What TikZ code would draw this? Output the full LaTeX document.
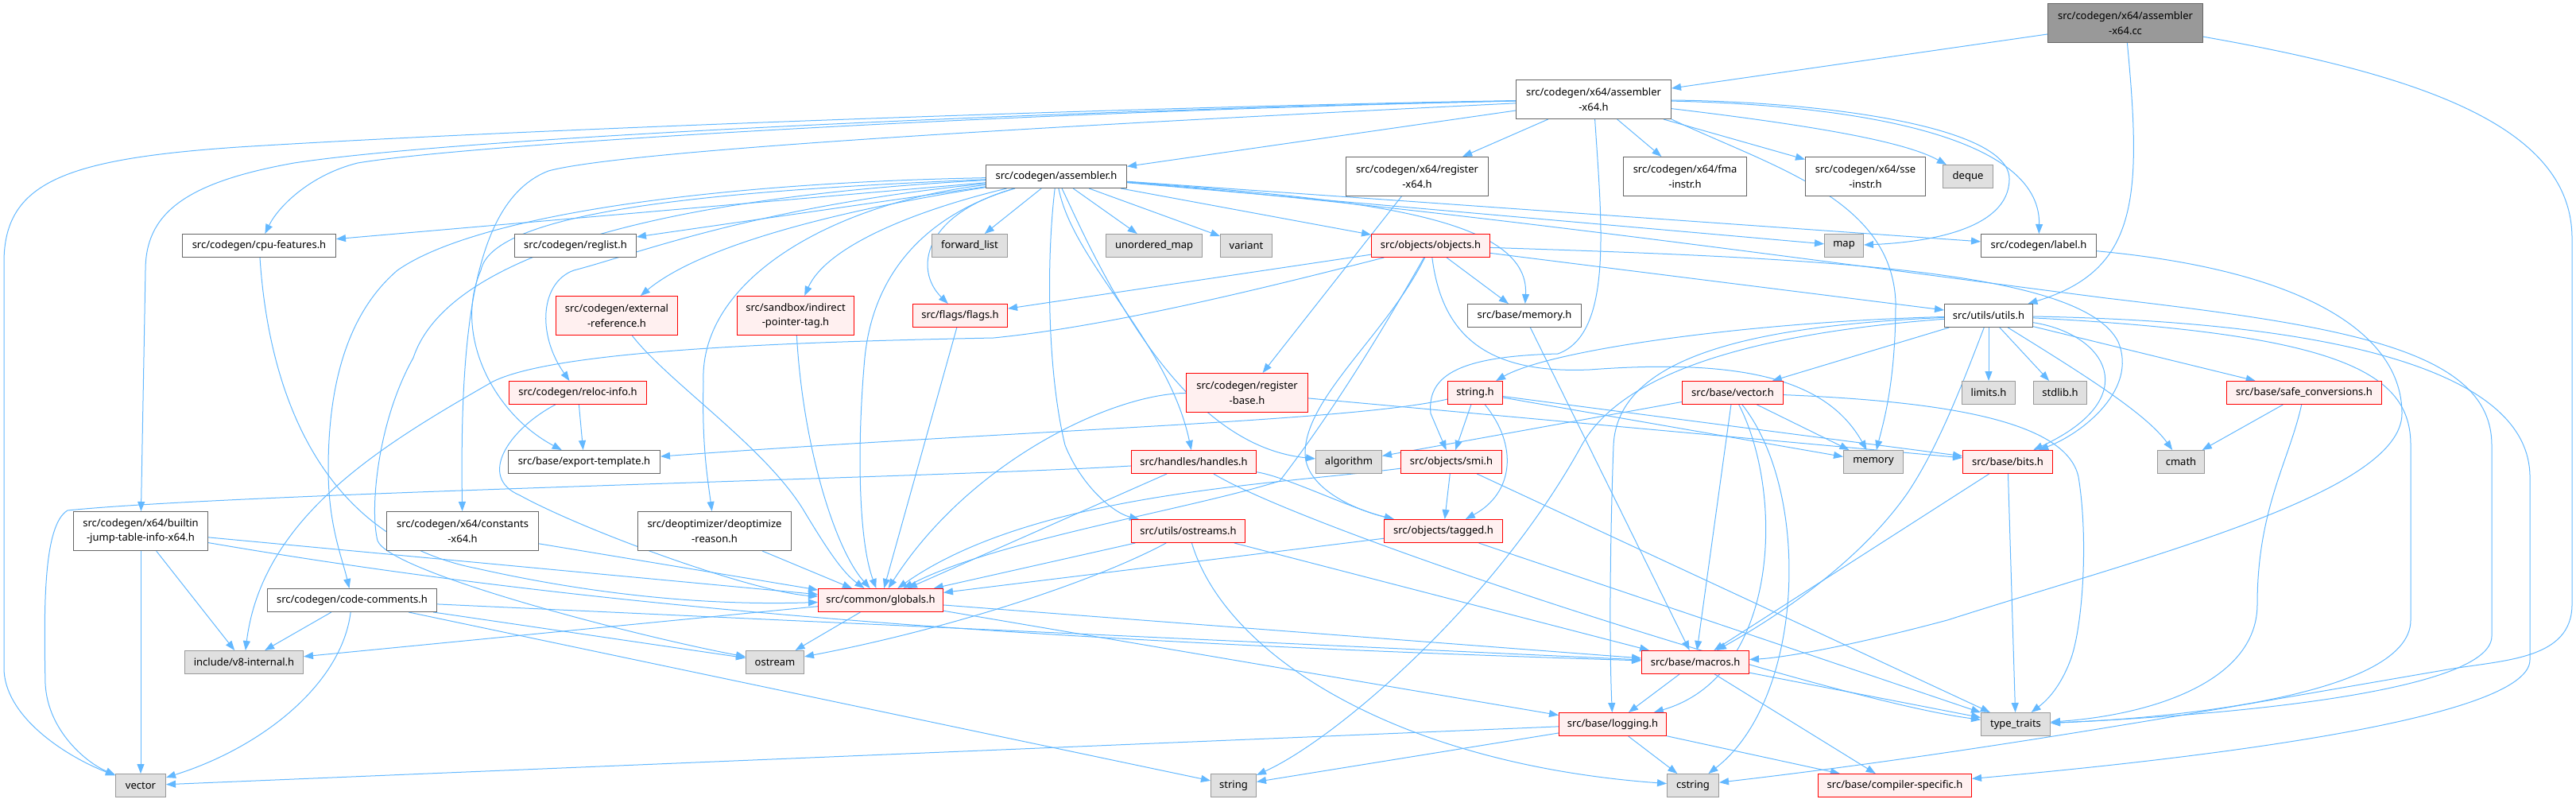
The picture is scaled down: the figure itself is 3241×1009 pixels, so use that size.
\documentclass[tikz,border=0pt]{standalone}
\usepackage{fontspec}
\setmainfont{Noto Sans}
\usetikzlibrary{arrows.meta}
\definecolor{edgec}{HTML}{63B8FF}
\definecolor{redfill}{HTML}{FFF0F0}
\definecolor{grayfill}{HTML}{E0E0E0}
\definecolor{gryA}{HTML}{666666}
\definecolor{gryB}{HTML}{999999}
\pgfdeclarelayer{bg}
\pgfsetlayers{bg,main}
\begin{document}
\begin{tikzpicture}[x=1pt,y=-1pt,
  nd/.style={rectangle, line width=1pt, inner sep=0pt, minimum height=29pt, align=center, font=\fontsize{13}{18.7}\selectfont},
  two/.style={minimum height=49pt},
  wh/.style={nd, draw=gryA, fill=white},
  rd/.style={nd, draw=red, fill=redfill},
  gy/.style={nd, draw=gryB, fill=grayfill},
  tp/.style={nd, draw=gryA, fill=gryB},
  ed/.style={draw=edgec, line width=1pt, -{Triangle[length=12pt,width=9pt]}}
]
\useasboundingbox (0,0) rectangle (3241,1009);
% row A
\node[tp,two,minimum width=195pt] (cc) at (2674,29) {src/codegen/x64/assembler\\-x64.cc};
% row B
\node[wh,two,minimum width=195pt] (x64h) at (2005,125) {src/codegen/x64/assembler\\-x64.h};
% row C
\node[wh,minimum width=177pt] (asm) at (1329,222) {src/codegen/assembler.h};
\node[wh,two,minimum width=179pt] (regx64) at (1783,222) {src/codegen/x64/register\\-x64.h};
\node[wh,two,minimum width=155pt] (fma) at (2120,222) {src/codegen/x64/fma\\-instr.h};
\node[wh,two,minimum width=151pt] (sse) at (2347,222) {src/codegen/x64/sse\\-instr.h};
\node[gy,minimum width=63pt] (deque) at (2476,222) {deque};
% row D
\node[wh,minimum width=193pt] (cpu) at (326,309) {src/codegen/cpu-features.h};
\node[wh,minimum width=153pt] (reglist) at (724,309) {src/codegen/reglist.h};
\node[gy,minimum width=95pt] (fwd) at (1220,309) {forward\_list};
\node[gy,minimum width=121pt] (umap) at (1452,309) {unordered\_map};
\node[gy,minimum width=65pt] (variant) at (1568,309) {variant};
\node[rd,minimum width=149pt] (objects) at (1800,309) {src/objects/objects.h};
\node[gy,minimum width=49pt] (map) at (2320,309) {map};
\node[wh,minimum width=145pt] (label) at (2565,309) {src/codegen/label.h};
% row E
\node[rd,two,minimum width=153pt] (extref) at (776,397) {src/codegen/external\\-reference.h};
\node[rd,two,minimum width=147pt] (sandbox) at (1001,397) {src/sandbox/indirect\\-pointer-tag.h};
\node[rd,minimum width=119pt] (flags) at (1208,397) {src/flags/flags.h};
\node[wh,minimum width=143pt] (bmemory) at (1918,397) {src/base/memory.h};
\node[wh,minimum width=111pt] (utils) at (2502,397) {src/utils/utils.h};
% row F
\node[rd,minimum width=173pt] (reloc) at (727,494) {src/codegen/reloc-info.h};
\node[rd,two,minimum width=153pt] (regbase) at (1569,494) {src/codegen/register\\-base.h};
\node[rd,minimum width=69pt] (stringh) at (1856,494) {string.h};
\node[rd,minimum width=127pt] (bvector) at (2180,494) {src/base/vector.h};
\node[gy,minimum width=67pt] (limits) at (2502,494) {limits.h};
\node[gy,minimum width=67pt] (stdlib) at (2592,494) {stdlib.h};
\node[rd,minimum width=195pt] (safe) at (2899,494) {src/base/safe\_conversions.h};
% row G
\node[wh,minimum width=191pt] (export) at (735,581) {src/base/export-template.h};
\node[rd,minimum width=157pt] (handles) at (1502,581) {src/handles/handles.h};
\node[gy,minimum width=83pt] (algorithm) at (1697,581) {algorithm};
\node[rd,minimum width=127pt] (smi) at (1826,581) {src/objects/smi.h};
\node[gy,minimum width=75pt] (memory) at (2357,581) {memory};
\node[rd,minimum width=113pt] (bits) at (2526,581) {src/base/bits.h};
\node[gy,minimum width=59pt] (cmath) at (2744,581) {cmath};
% row H
\node[wh,two,minimum width=169pt] (builtin) at (177,668) {src/codegen/x64/builtin\\-jump-table-info-x64.h};
\node[wh,two,minimum width=191pt] (constants) at (582,668) {src/codegen/x64/constants\\-x64.h};
\node[wh,two,minimum width=193pt] (deopt) at (899,668) {src/deoptimizer/deoptimize\\-reason.h};
\node[rd,minimum width=143pt] (ostreams) at (1495,668) {src/utils/ostreams.h};
\node[rd,minimum width=149pt] (tagged) at (1816,668) {src/objects/tagged.h};
% row I
\node[wh,minimum width=213pt] (codecomments) at (443,755) {src/codegen/code-comments.h};
\node[rd,minimum width=157pt] (globals) at (1108,755) {src/common/globals.h};
% row J
\node[gy,minimum width=149pt] (v8int) at (307,833) {include/v8-internal.h};
\node[gy,minimum width=73pt] (ostream) at (975,833) {ostream};
\node[rd,minimum width=135pt] (macros) at (2133,833) {src/base/macros.h};
% row K
\node[rd,minimum width=135pt] (logging) at (2029,911) {src/base/logging.h};
\node[gy,minimum width=87pt] (typetraits) at (2536,911) {type\_traits};
% row L
\node[gy,minimum width=63pt] (vector) at (177,988) {vector};
\node[gy,minimum width=57pt] (string) at (1552,988) {string};
\node[gy,minimum width=65pt] (cstring) at (2130,988) {cstring};
\node[rd,minimum width=193pt] (compiler) at (2384,988) {src/base/compiler-specific.h};

\begin{pgfonlayer}{bg}
% assembler-x64.cc
\draw[ed] (cc) -- (x64h);
\draw[ed] (cc) .. controls (2695,250) and (2690,340) .. (utils);
\draw[ed] (cc) .. controls (3050,95) and (3236,160) .. (3236,300) -- (3236,760) .. controls (3236,830) and (3150,830) .. (3080,842) .. controls (2800,890) and (2500,945) .. (cstring);
% assembler-x64.h
\draw[ed] (x64h) -- (asm);
\draw[ed] (x64h) -- (regx64);
\draw[ed] (x64h) -- (fma);
\draw[ed] (x64h) -- (sse);
\draw[ed] (x64h) .. controls (2300,160) and (2400,180) .. (deque);
\draw[ed] (x64h) .. controls (2300,128) and (2528,160) .. (2528,225) .. controls (2528,290) and (2420,305) .. (map);
\draw[ed] (x64h) .. controls (2330,132) and (2568,170) .. (label);
\draw[ed] (x64h.south east) .. controls (2230,210) and (2380,250) .. (2385,380) .. controls (2385,480) and (2370,530) .. (memory);
\draw[ed] (x64h) .. controls (1500,133) and (700,160) .. (300,185) .. controls (80,200) and (5,230) .. (5,330) -- (5,840) .. controls (5,900) and (80,950) .. (vector);
\draw[ed] (x64h) .. controls (1400,137) and (600,170) .. (370,205) .. controls (230,230) and (183,270) .. (183,340) -- (builtin);
\draw[ed] (x64h) .. controls (1300,140) and (600,180) .. (450,205) .. controls (390,220) and (350,260) .. (cpu);
\draw[ed] (x64h) .. controls (1500,150) and (800,185) .. (690,215) .. controls (600,250) and (578,400) .. (constants);
\draw[ed] (x64h) .. controls (2015,280) and (2030,420) .. (1960,445) .. controls (1840,448) and (1795,470) .. (1800,520) -- (smi);
% assembler.h
\draw[ed] (asm) -- (cpu);
\draw[ed] (asm) -- (reglist);
\draw[ed] (asm) .. controls (1050,265) and (880,310) .. (extref);
\draw[ed] (asm) .. controls (950,260) and (800,320) .. (722,340) .. controls (680,355) and (675,420) .. (reloc);
\draw[ed] (asm) .. controls (900,230) and (600,270) .. (500,340) .. controls (430,400) and (413,500) .. (413,590) .. controls (413,660) and (430,700) .. (codecomments);
\draw[ed] (asm) .. controls (900,240) and (620,265) .. (605,340) .. controls (570,420) and (620,520) .. (export);
\draw[ed] (asm) .. controls (800,250) and (560,330) .. (520,450) .. controls (475,530) and (465,640) .. (475,680) .. controls (490,720) and (800,800) .. (ostream);
\draw[ed] (asm) .. controls (1150,265) and (1040,310) .. (sandbox);
\draw[ed] (asm) .. controls (1050,255) and (880,350) .. (885,480) .. controls (883,560) and (890,600) .. (deopt);
\draw[ed] (asm) .. controls (1180,265) and (1100,330) .. (1088,450) .. controls (1078,560) and (1080,680) .. (globals);
\draw[ed] (asm) .. controls (1160,270) and (1150,340) .. (flags);
\draw[ed] (asm) -- (fwd);
\draw[ed] (asm) -- (umap);
\draw[ed] (asm) -- (variant);
\draw[ed] (asm) .. controls (1350,330) and (1470,430) .. (handles);
\draw[ed] (asm) .. controls (1316,330) and (1318,470) .. (1340,560) .. controls (1360,610) and (1400,645) .. (ostreams);
\draw[ed] (asm) .. controls (1380,330) and (1480,560) .. (algorithm);
\draw[ed] (asm) -- (objects);
\draw[ed] (asm) .. controls (1700,250) and (1925,270) .. (bmemory);
\draw[ed] (asm) -- (map);
\draw[ed] (asm) -- (label);
\draw[ed] (asm) .. controls (1800,260) and (2300,330) .. (2650,375) .. controls (2950,410) and (3135,440) .. (3135,560) -- (3135,800) .. controls (3135,870) and (2800,900) .. (typetraits);
% first-level leaves
\draw[ed] (cpu) .. controls (340,520) and (420,680) .. (600,715) .. controls (800,760) and (950,760) .. (globals);
\draw[ed] (extref) .. controls (840,480) and (960,560) .. (1010,640) .. controls (1040,690) and (1060,720) .. (globals);
\draw[ed] (sandbox) .. controls (1010,560) and (1050,690) .. (globals);
\draw[ed] (flags) -- (globals);
\draw[ed] (deopt) -- (globals);
\draw[ed] (reloc) -- (export);
\draw[ed] (reloc) .. controls (640,540) and (600,600) .. (654,623) .. controls (740,670) and (950,745) .. (globals);
\draw[ed] (builtin) -- (globals);
\draw[ed] (builtin) .. controls (800,775) and (1400,810) .. (macros);
\draw[ed] (builtin) -- (vector);
\draw[ed] (builtin) -- (v8int);
\draw[ed] (constants) -- (globals);
\draw[ed] (codecomments) -- (v8int);
\draw[ed] (codecomments) .. controls (430,860) and (330,940) .. (vector);
\draw[ed] (codecomments) -- (ostream);
\draw[ed] (codecomments) -- (string);
\draw[ed] (codecomments) -- (macros);
% objects.h
\draw[ed] (objects) -- (flags);
\draw[ed] (objects) .. controls (1600,360) and (1400,410) .. (1250,425) .. controls (1000,430) and (700,440) .. (620,480) .. controls (480,560) and (330,650) .. (v8int);
\draw[ed] (objects) -- (bmemory);
\draw[ed] (objects) .. controls (1815,430) and (1880,470) .. (2000,465) .. controls (2200,450) and (2300,480) .. (memory);
\draw[ed] (objects) -- (utils);
\draw[ed] (objects) .. controls (2300,325) and (2620,340) .. (2665,430) .. controls (2690,490) and (2620,545) .. (bits);
\draw[ed] (objects) .. controls (1720,450) and (1660,540) .. (1610,605) .. controls (1500,640) and (1250,680) .. (globals);
\draw[ed] (objects) .. controls (1745,420) and (1642,500) .. (1642,570) .. controls (1642,612) and (1700,640) .. (tagged);
% register
\draw[ed] (regx64) -- (regbase);
\draw[ed] (regbase) .. controls (1400,495) and (1220,580) .. (globals);
\draw[ed] (regbase) -- (bits);
% string.h
\draw[ed] (stringh) .. controls (1700,530) and (1300,540) .. (export);
\draw[ed] (stringh) -- (smi);
\draw[ed] (stringh) .. controls (1910,560) and (1905,620) .. (tagged);
\draw[ed] (stringh) -- (bits);
\draw[ed] (stringh) -- (memory);
% base/vector.h
\draw[ed] (bvector) -- (algorithm);
\draw[ed] (bvector) -- (memory);
\draw[ed] (bvector) -- (macros);
\draw[ed] (bvector) .. controls (2245,620) and (2240,850) .. (logging);
\draw[ed] (bvector) .. controls (2280,620) and (2270,880) .. (cstring);
\draw[ed] (bvector) .. controls (2450,505) and (2600,530) .. (2615,600) .. controls (2628,680) and (2620,790) .. (2605,830) .. controls (2590,870) and (2570,885) .. (typetraits);
% utils.h
\draw[ed] (utils) -- (limits);
\draw[ed] (utils) -- (stdlib);
\draw[ed] (utils) -- (safe);
\draw[ed] (utils) .. controls (2620,470) and (2700,520) .. (cmath);
\draw[ed] (utils) .. controls (2650,420) and (2700,500) .. (bits);
\draw[ed] (utils) .. controls (2200,405) and (1950,440) .. (stringh);
\draw[ed] (utils) -- (bvector);
\draw[ed] (utils) .. controls (2200,420) and (2040,470) .. (1990,560) .. controls (1880,760) and (1680,930) .. (string);
\draw[ed] (utils) .. controls (2200,410) and (2035,450) .. (2030,560) .. controls (2025,700) and (2025,820) .. (logging);
\draw[ed] (utils) .. controls (2470,480) and (2440,560) .. (2400,620) .. controls (2330,720) and (2210,790) .. (macros);
\draw[ed] (utils) .. controls (2950,420) and (3033,470) .. (3033,560) -- (3033,780) .. controls (3033,880) and (2700,905) .. (typetraits);
\draw[ed] (utils) .. controls (2950,405) and (3183,470) .. (3183,600) -- (3183,830) .. controls (3183,910) and (2700,960) .. (compiler);
% safe, bits
\draw[ed] (safe) -- (cmath);
\draw[ed] (safe) .. controls (2880,580) and (2840,640) .. (2840,760) .. controls (2840,860) and (2700,900) .. (typetraits);
\draw[ed] (bits) -- (macros);
\draw[ed] (bits) -- (typetraits);
% handles
\draw[ed] (handles) .. controls (1200,600) and (300,620) .. (85,642) .. controls (55,660) and (55,760) .. (57,860) .. controls (60,920) and (110,960) .. (vector);
\draw[ed] (handles) -- (globals);
\draw[ed] (handles) .. controls (1620,600) and (1700,640) .. (tagged);
\draw[ed] (handles) .. controls (1650,670) and (2300,880) .. (typetraits);
% ostreams
\draw[ed] (ostreams) -- (globals);
\draw[ed] (ostreams) .. controls (1380,730) and (1200,790) .. (ostream);
\draw[ed] (ostreams) .. controls (1540,820) and (1750,960) .. (cstring);
\draw[ed] (ostreams) -- (macros);
% smi, tagged
\draw[ed] (smi) -- (tagged);
\draw[ed] (smi) .. controls (1600,610) and (1300,620) .. (globals);
\draw[ed] (smi) -- (typetraits);
\draw[ed] (tagged) -- (globals);
\draw[ed] (tagged) -- (typetraits);
% globals
\draw[ed] (globals) -- (v8int);
\draw[ed] (globals) -- (ostream);
\draw[ed] (globals) -- (macros);
\draw[ed] (globals) -- (logging);
% macros, logging
\draw[ed] (macros) -- (logging);
\draw[ed] (macros) -- (compiler);
\draw[ed] (macros) -- (typetraits);
\draw[ed] (logging) -- (vector);
\draw[ed] (logging) -- (string);
\draw[ed] (logging) -- (cstring);
\draw[ed] (logging) -- (compiler);
\draw[ed] (bmemory) -- (macros);
\draw[ed] (label) .. controls (2900,340) and (3022,420) .. (3022,520) .. controls (3022,620) and (2700,700) .. (2450,780) .. controls (2300,820) and (2230,828) .. (macros);
\end{pgfonlayer}
\end{tikzpicture}
\end{document}
